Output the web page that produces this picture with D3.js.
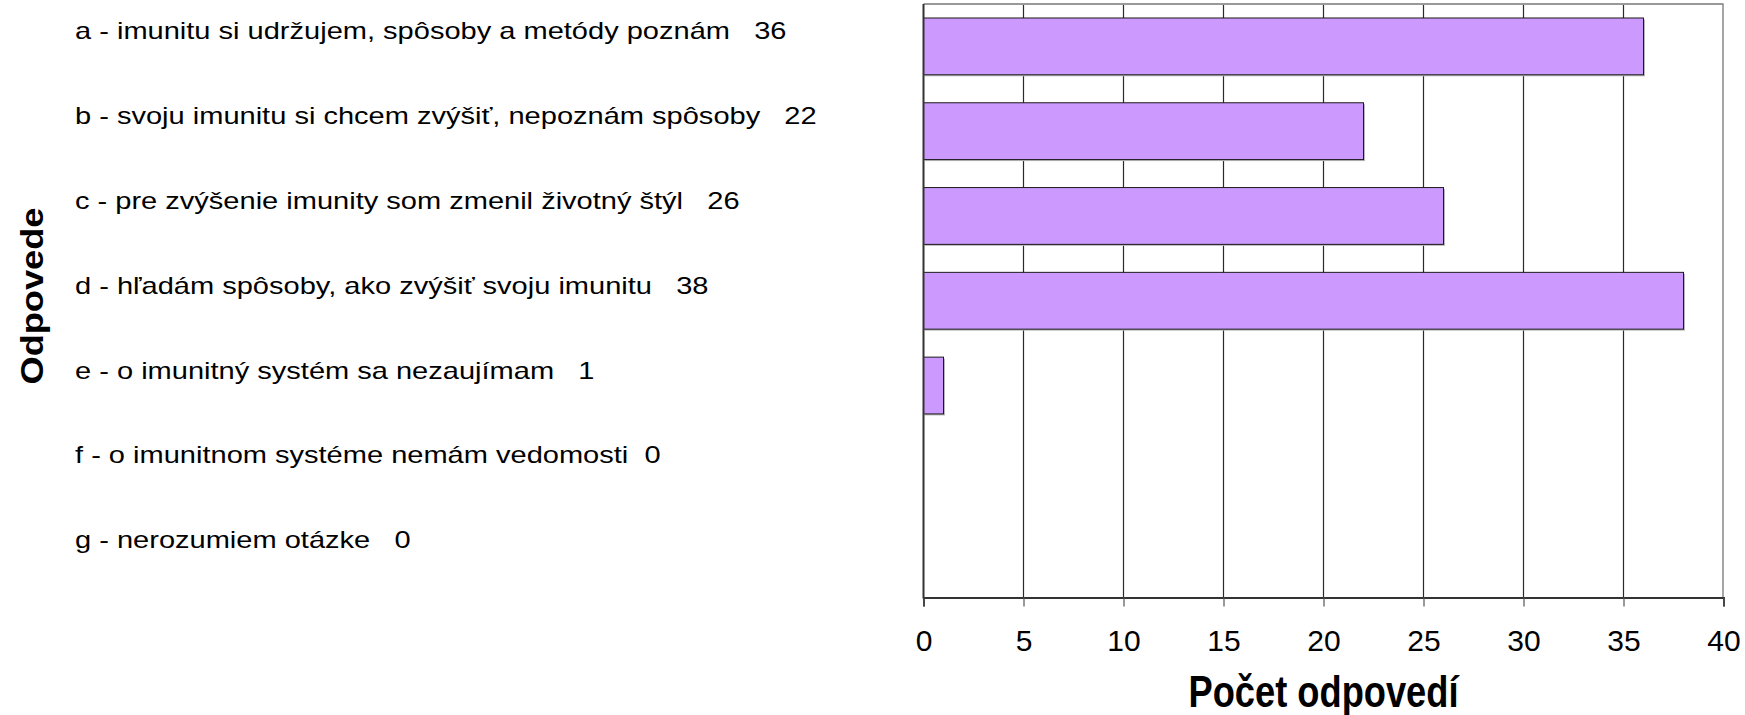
<!DOCTYPE html>
<html>
<head>
<meta charset="utf-8">
<script src="https://cdn.jsdelivr.net/npm/d3@7"></script>
<style>
  html, body { margin: 0; padding: 0; background: #fff; }
  svg { display: block; }
  text { font-family: "Liberation Sans", Arial, sans-serif; fill: #000; white-space: pre; }
</style>
</head>
<body>
<svg id="chart" width="1745" height="715"></svg>
<script>
// ---- data ----
const categories = ["a", "b", "c", "d", "e", "f", "g"];
const labels = [
  "a - imunitu si udržujem, spôsoby a metódy poznám   36",
  "b - svoju imunitu si chcem zvýšiť, nepoznám spôsoby   22",
  "c - pre zvýšenie imunity som zmenil životný štýl   26",
  "d - hľadám spôsoby, ako zvýšiť svoju imunitu   38",
  "e - o imunitný systém sa nezaujímam   1",
  "f - o imunitnom systéme nemám vedomosti  0",
  "g - nerozumiem otázke   0"
];
const values = [36, 22, 26, 38, 1, 0, 0];
const xTicks = [0, 5, 10, 15, 20, 25, 30, 35, 40];
const xTitle = "Počet odpovedí";
const yTitle = "Odpovede";

// ---- layout ----
const svg = d3.select("#chart");
const plot = { left: 923.5, right: 1723.5, top: 4, bottom: 597.5 };

const x = d3.scaleLinear().domain([0, 40]).range([plot.left, plot.right]);
const y = d3.scaleBand().domain(categories).range([plot.top, plot.bottom])
  .paddingInner(0.33).paddingOuter(0.165);

// gridlines
svg.append("g").selectAll("line").data(xTicks.slice(1, -1)).join("line")
  .attr("x1", d => x(d)).attr("x2", d => x(d))
  .attr("y1", plot.top).attr("y2", plot.bottom)
  .attr("stroke", "#2a2a2a").attr("stroke-width", 1.2);

// plot border (top, right)
svg.append("line").attr("x1", plot.left).attr("x2", plot.right)
  .attr("y1", plot.top).attr("y2", plot.top)
  .attr("stroke", "#999").attr("stroke-width", 2);
svg.append("line").attr("x1", x(40) - 0.5).attr("x2", x(40) - 0.5)
  .attr("y1", plot.top).attr("y2", plot.bottom)
  .attr("stroke", "#888").attr("stroke-width", 1.5);

// bar shadows
const bars = categories.map((c, i) => ({ c, v: values[i] })).filter(d => d.v > 0);
svg.append("g").selectAll("rect").data(bars).join("rect")
  .attr("x", plot.left + 1.5)
  .attr("y", d => y(d.c) + 1.5)
  .attr("width", d => x(d.v) - x(0))
  .attr("height", y.bandwidth())
  .attr("fill", "#b8b8b8");
// bars
svg.append("g").selectAll("rect").data(bars).join("rect")
  .attr("x", plot.left)
  .attr("y", d => y(d.c))
  .attr("width", d => x(d.v) - x(0))
  .attr("height", y.bandwidth())
  .attr("fill", "#CC99FF")
  .attr("stroke", "#1a1a1a").attr("stroke-width", 1);

// x axis
const xAxis = d3.axisBottom(x).tickValues(xTicks).tickSize(9).tickPadding(23);
const gx = svg.append("g").attr("transform", `translate(0,${plot.bottom})`).call(xAxis);
gx.select(".domain").attr("stroke", "#333").attr("stroke-width", 2);
gx.selectAll(".tick line").attr("stroke", "#555").attr("stroke-width", 1.2);
gx.selectAll(".tick text").attr("font-size", 30).attr("fill", "#000")
  .attr("font-family", "'Liberation Sans', Arial, sans-serif");

// left axis line
svg.append("line").attr("x1", plot.left).attr("x2", plot.left)
  .attr("y1", plot.top).attr("y2", plot.bottom + 1)
  .attr("stroke", "#333").attr("stroke-width", 2);

// category labels (left-aligned, horizontally widened like the original)
svg.append("g").selectAll("text").data(categories).join("text")
  .attr("transform", d => `translate(75,${y(d) + y.bandwidth() / 2 - 7}) scale(1.21,1)`)
  .attr("font-size", 24)
  .text((d, i) => labels[i]);

// axis titles
svg.append("text")
  .attr("transform", "translate(43,296) rotate(-90)")
  .attr("text-anchor", "middle")
  .attr("font-size", 31).attr("font-weight", "bold")
  .attr("textLength", 177).attr("lengthAdjust", "spacingAndGlyphs")
  .text(yTitle);

svg.append("text")
  .attr("x", (plot.left + plot.right) / 2).attr("y", 707)
  .attr("text-anchor", "middle")
  .attr("font-size", 44).attr("font-weight", "bold")
  .attr("textLength", 270).attr("lengthAdjust", "spacingAndGlyphs")
  .text(xTitle);
</script>
</body>
</html>
